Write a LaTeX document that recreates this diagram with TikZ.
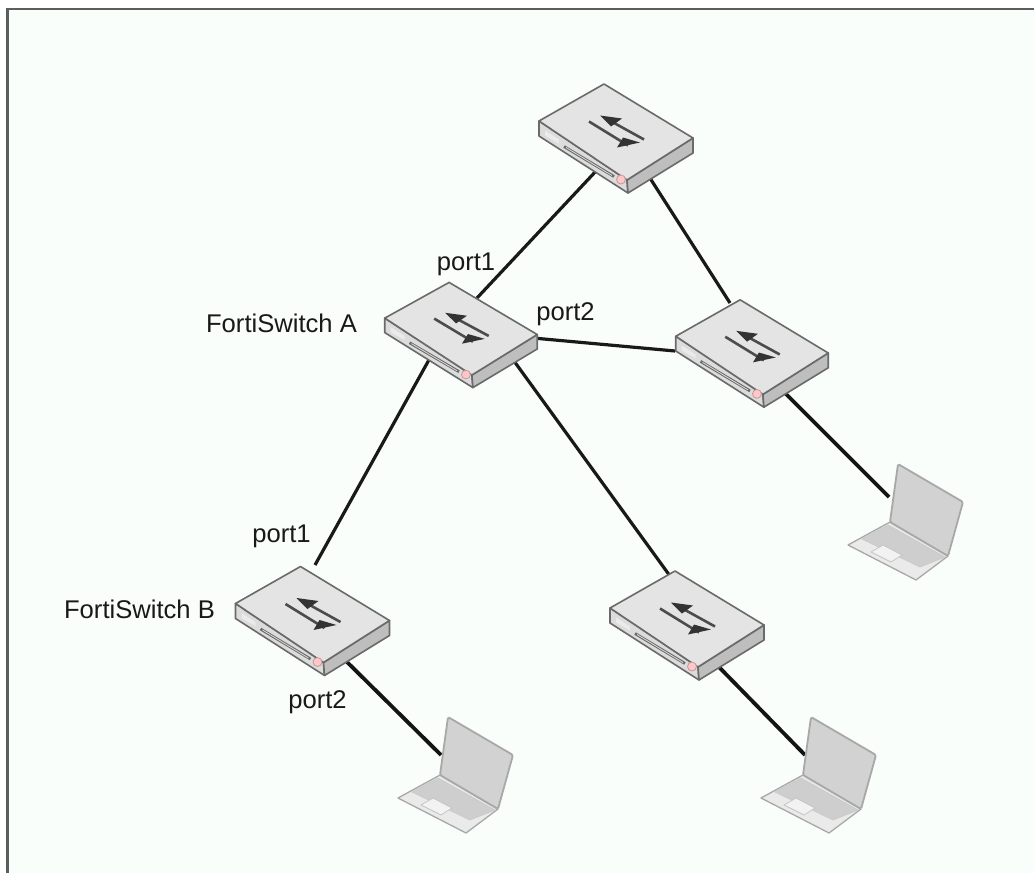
\documentclass[tikz,border=0pt]{standalone}
\usepackage{fontspec}
\setmainfont{Liberation Sans}
\definecolor{paper}{HTML}{F9FEFB}
\definecolor{frameC}{HTML}{5A5F5C}
\definecolor{edgeC}{HTML}{6A6A6A}
\definecolor{topC}{HTML}{E4E4E4}
\definecolor{sideC}{HTML}{BEBEBE}
\definecolor{frontC}{HTML}{DCDCDC}
\definecolor{lapE}{HTML}{A8A8A8}
\definecolor{lapS}{HTML}{D2D2D2}
\definecolor{lapB}{HTML}{EAEAEA}
\definecolor{lapK}{HTML}{CECECE}
\tikzset{
  x=1pt,y=-1pt,
  link/.style={draw=black!90,line width=3.2pt},
  laplink/.style={draw=black!92,line width=3.8pt},
  anchorbox/.style={inner sep=0pt,minimum width=150pt,minimum height=100pt},
  lapbox/.style={inner sep=0pt,minimum width=110pt,minimum height=110pt},
  lbl/.style={font=\fontsize{25.6}{26}\selectfont,text=black!90,inner sep=0pt},
  switchicon/.pic={
    \draw[edgeC,line width=1.6pt,line join=round,fill=frontC] (-77,-17.5)--(11,41.5)--(12,54.5)--(-77,-2.5)--cycle;
    \draw[edgeC,line width=1.6pt,line join=round,fill=sideC] (11,41.5)--(77,-0.5)--(77,14.5)--(12,54.5)--cycle;
    \draw[edgeC,line width=1.6pt,line join=round,fill=topC] (-77,-17.5)--(-12,-54.5)--(77,-0.5)--(11,41.5)--cycle;
    \fill[white!92!black] (-71,-8)--(-57,1)--(-57,5)--(-71,-3)--cycle;
    \draw[line width=2.8pt,draw=black!58] (-52,8)--(-2,38);
    \draw[line width=.8pt,draw=black!15] (-50,9)--(-4,37);
    \fill[red!22,draw=red!40!black!40,line width=.8pt] (5,41) circle (4.5);
    \draw[black!70,line width=2.6pt] (28,1)--(-10,-20);
    \fill[black!80] (-16,-23)--(6,-20)--(-5,-12)--cycle;
    \draw[black!70,line width=2.6pt] (-27,-17)--(12,7);
    \fill[black!80] (24,4)--(1,9)--(7,-1)--cycle;
  },
  laptopicon/.pic={
    \draw[lapE,line width=1.3pt,line join=round,fill=lapB] (-8,58)--(-50,81)--(18,116)--(50,92)--cycle;
    \draw[lapE!60,line width=.8pt,fill=lapK] (-10,61)--(-36,75)--(22,103)--(47,93)--cycle;
    \draw[lapE!70,line width=.7pt,fill=white!95!black] (-27,88)--(-15,81)--(4,91)--(-7,98)--cycle;
    \draw[lapE,line width=1.8pt,line join=round,rounded corners=1.5pt,fill=lapS] (0,0)--(65,38)--(50,92)--(-8,58)--cycle;
  }
}
\begin{document}
\begin{tikzpicture}
\useasboundingbox (0,0) rectangle (1034,873);
\fill[white] (0,0) rectangle (1034,873);
\fill[paper] (8,9) rectangle (1034,873);
\draw[frameC,line width=2.4pt] (7.5,873)--(7.5,9)--(1034,9);

\node[anchorbox] (top) at (616,138.5) {};
\node[anchorbox] (swa) at (461,335) {};
\node[anchorbox] (swr) at (752,353.5) {};
\node[anchorbox] (swb) at (312.5,621) {};
\node[anchorbox] (swm) at (687,625.5) {};
\node[lapbox] (lapr) at (906,522) {};
\node[lapbox] (lapb) at (456,775) {};
\node[lapbox] (lapm) at (819,775) {};

\draw[link] ([shift={(-19,31.5)}]top.center) -- ([shift={(16,-37)}]swa.center);
\draw[link] ([shift={(32,36.5)}]top.center) -- ([shift={(-22,-50.5)}]swr.center);
\draw[link] ([shift={(72,3)}]swa.center) -- ([shift={(-77,-2.5)}]swr.center);
\draw[link] ([shift={(-31,23)}]swa.center) -- ([shift={(2.5,-56)}]swb.center);
\draw[link] ([shift={(53,26)}]swa.center) -- ([shift={(-17,-49.5)}]swm.center);
\draw[laplink] ([shift={(30,36.5)}]swr.center) -- ([shift={(-17,-25)}]lapr.center);
\draw[laplink] ([shift={(31.5,38)}]swb.center) -- ([shift={(-15,-20)}]lapb.center);
\draw[laplink] ([shift={(30,39.5)}]swm.center) -- ([shift={(-14,-20)}]lapm.center);

\pic at (top.center) {switchicon};
\pic[xscale=.99,yscale=.965] at (swa.center) {switchicon};
\pic[xscale=.99,yscale=.985] at (swr.center) {switchicon};
\pic at (swb.center) {switchicon};
\pic at (swm.center) {switchicon};
\pic at (898,464) {laptopicon};
\pic at (448,717) {laptopicon};
\pic at (811,717) {laptopicon};

\node[lbl] (t1) at (466,264) {port1};
\node[lbl] (t2) at (281.5,323) {FortiSwitch A};
\node[lbl] (t3) at (565.5,314) {port2};
\node[lbl] (t4) at (281.5,536) {port1};
\node[lbl] (t5) at (139.5,609) {FortiSwitch B};
\node[lbl] (t6) at (317.5,702) {port2};
\end{tikzpicture}
\end{document}
